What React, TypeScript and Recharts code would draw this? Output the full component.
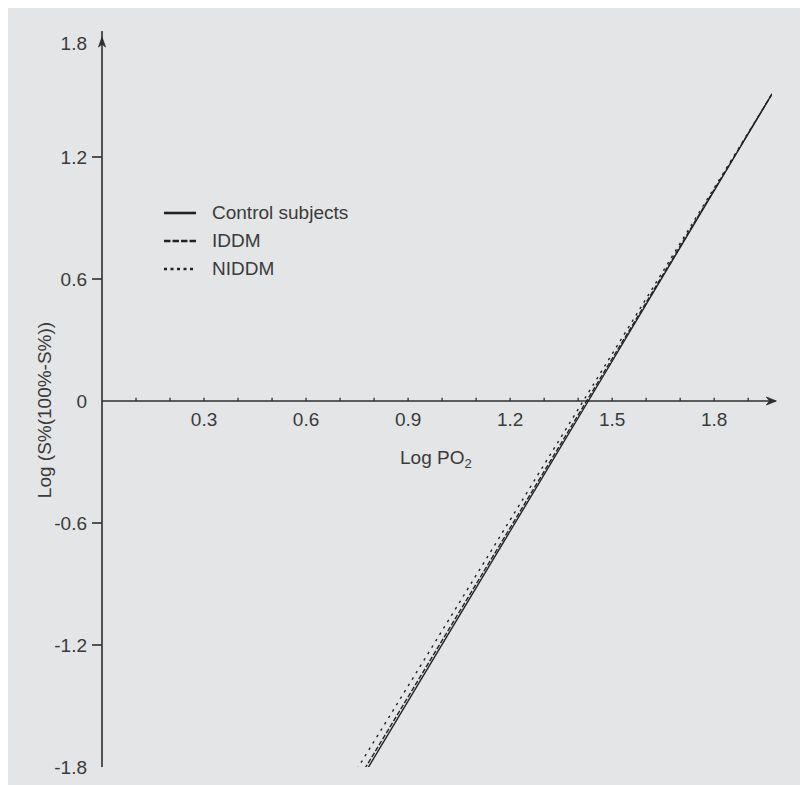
import { LineChart, Line, XAxis, YAxis, ReferenceLine, ReferenceDot, Legend } from "recharts";

const X_MINOR_TICKS = [0.1, 0.2, 0.3, 0.4, 0.5, 0.6, 0.7, 0.8, 0.9, 1.0, 1.1, 1.2, 1.3, 1.4, 1.5, 1.6, 1.7, 1.8, 1.9];
const X_LABELS = [0.3, 0.6, 0.9, 1.2, 1.5, 1.8];
const Y_TICKS = [-1.8, -1.2, -0.6, 0, 0.6, 1.2, 1.8];

const controlSubjects = [
  { x: 0.78, y: -1.81 },
  { x: 1.43, y: 0 },
  { x: 1.97, y: 1.51 },
];
const iddm = [
  { x: 0.772, y: -1.81 },
  { x: 1.425, y: 0 },
  { x: 1.97, y: 1.51 },
];
const niddm = [
  { x: 0.75, y: -1.81 },
  { x: 1.415, y: 0 },
  { x: 1.97, y: 1.51 },
];

const SERIES = [
  { name: "Control subjects", data: controlSubjects, dash: undefined, legendDash: undefined },
  { name: "IDDM", data: iddm, dash: "5 2", legendDash: "6.5 2" },
  { name: "NIDDM", data: niddm, dash: "2.5 5", legendDash: "3 3.5" },
];

const FONT = '"Liberation Sans", Arial, sans-serif';
const TEXT = "#3a3a3a";
const AXIS = "#2e2e2e";

function YTick(props: any) {
  const { x, y, payload } = props;
  const v = payload.value;
  const top = v === 1.8;
  const ty = top ? y + 8 : y;
  const showTick = !top && v !== 0 && v !== -1.8;
  return (
    <g>
      {showTick && <line x1={x - 10} x2={x} y1={y} y2={y} stroke={AXIS} strokeWidth={1.6} />}
      <text x={x - 15} y={ty} dy="0.36em" textAnchor="end" fill={TEXT} fontSize={19} fontFamily={FONT}>
        {String(v)}
      </text>
    </g>
  );
}

function LegendBox() {
  return (
    <div style={{ fontFamily: FONT, fontSize: 19, color: TEXT }}>
      {SERIES.map((s) => (
        <div key={s.name} style={{ display: "flex", alignItems: "center", height: 28 }}>
          <svg width={32} height={8}>
            <line x1={0} x2={32} y1={4} y2={4} stroke="#222" strokeWidth={2.6} strokeDasharray={s.legendDash} />
          </svg>
          <span style={{ marginLeft: 16, whiteSpace: "nowrap" }}>{s.name}</span>
        </div>
      ))}
    </div>
  );
}

export default function App() {
  return (
    <div style={{ position: "relative", width: 800, height: 777, background: "#e4e5e6", fontFamily: FONT }}>
      <LineChart
        width={800}
        height={777}
        margin={{ top: 27, right: 36, bottom: 18, left: 0 }}
        style={{ position: "absolute", left: 0, top: 0 }}
      >
        <XAxis type="number" dataKey="x" domain={[0, 1.97]} allowDataOverflow hide />
        <YAxis
          type="number"
          domain={[-1.8, 1.8]}
          ticks={Y_TICKS}
          interval={0}
          allowDataOverflow
          width={94}
          axisLine={false}
          tickLine={false}
          tickSize={0}
          tickMargin={0}
          tick={(p: any) => <YTick {...p} />}
        />

        {/* axes drawn through the origin */}
        <ReferenceLine
          segment={[{ x: 0, y: -1.8 }, { x: 0, y: 1.82 }]}
          stroke={AXIS}
          strokeWidth={1.6}
          ifOverflow="visible"
        />
        <ReferenceLine
          segment={[{ x: 0, y: 0 }, { x: 1.98, y: 0 }]}
          stroke={AXIS}
          strokeWidth={1.6}
          ifOverflow="visible"
        />
        {X_MINOR_TICKS.map((v) => (
          <ReferenceLine
            key={v}
            segment={[{ x: v, y: 0 }, { x: v, y: 0.016 }]}
            stroke={AXIS}
            strokeWidth={1.3}
            ifOverflow="visible"
            label={
              X_LABELS.includes(v)
                ? { value: String(v), position: "bottom", offset: 12, fill: TEXT, fontSize: 19, fontFamily: FONT }
                : undefined
            }
          />
        ))}
        <ReferenceDot
          x={0}
          y={1.8}
          r={0}
          ifOverflow="visible"
          shape={(p: any) => (
            <path
              d={`M${p.cx},${p.cy + 2} L${p.cx + 3.5},${p.cy + 12} L${p.cx},${p.cy + 9} L${p.cx - 3.5},${p.cy + 12} Z`}
              fill={AXIS}
              stroke={AXIS}
              strokeWidth={0.8}
            />
          )}
        />
        <ReferenceDot
          x={1.98}
          y={0}
          r={0}
          ifOverflow="visible"
          shape={(p: any) => (
            <path
              d={`M${p.cx + 1},${p.cy} L${p.cx - 9},${p.cy - 4} L${p.cx - 6},${p.cy} L${p.cx - 9},${p.cy + 4} Z`}
              fill={AXIS}
              stroke={AXIS}
              strokeWidth={0.8}
            />
          )}
        />

        {SERIES.map((s) => (
          <Line
            key={s.name}
            data={s.data}
            dataKey="y"
            type="linear"
            stroke="#222"
            strokeWidth={1.4}
            strokeDasharray={s.dash}
            dot={false}
            activeDot={false}
            isAnimationActive={false}
          />
        ))}

        <Legend
          layout="vertical"
          verticalAlign="middle"
          align="center"
          wrapperStyle={{ left: 156, top: 191, width: 300 }}
          content={() => <LegendBox />}
        />
      </LineChart>

      <div
        style={{
          position: "absolute",
          left: 392,
          top: 439,
          fontSize: 19,
          lineHeight: "22px",
          color: TEXT,
          whiteSpace: "nowrap",
        }}
      >
        Log PO<span style={{ fontSize: 13, position: "relative", top: 4 }}>2</span>
      </div>
      <div
        style={{
          position: "absolute",
          left: 37,
          top: 401.5,
          transform: "translate(-50%, -50%) rotate(-90deg)",
          fontSize: 19,
          lineHeight: "22px",
          color: TEXT,
          whiteSpace: "nowrap",
        }}
      >
        Log (S%(100%-S%))
      </div>
    </div>
  );
}
